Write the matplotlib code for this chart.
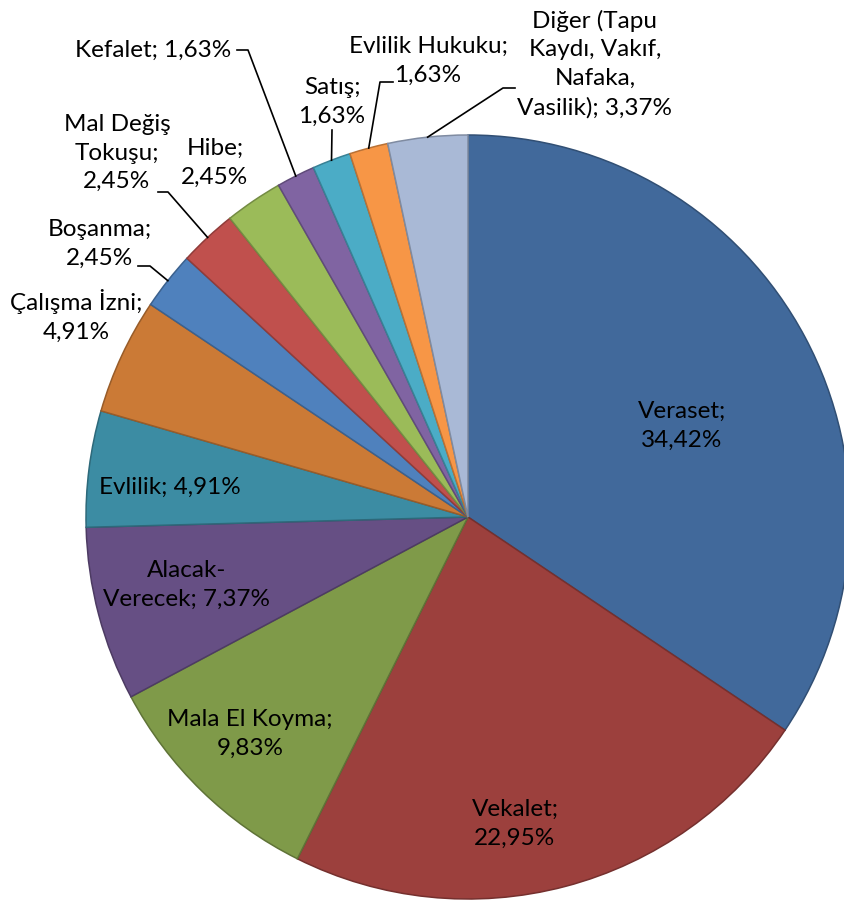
import numpy as np
import matplotlib.pyplot as plt
import matplotlib.colors as mcolors

plt.rcParams['font.family'] = ['Lato', 'DejaVu Sans']

# slices, clockwise from 12 o'clock
labels = ['Veraset;\n34,42%', 'Vekalet;\n22,95%', 'Mala El Koyma;\n9,83%',
          'Alacak-\nVerecek; 7,37%', 'Evlilik; 4,91%', 'Çalışma İzni;\n4,91%',
          'Boşanma;\n2,45%', 'Mal Değiş\nTokuşu;\n2,45%', 'Hibe;\n2,45%',
          'Kefalet; 1,63%', 'Satış;\n1,63%', 'Evlilik Hukuku;\n1,63%',
          'Diğer (Tapu\nKaydı, Vakıf,\nNafaka,\nVasilik); 3,37%']
values = [34.42, 22.95, 9.83, 7.37, 4.91, 4.91, 2.45, 2.45, 2.45, 1.63, 1.63, 1.63, 3.37]
colors = ['#41699b', '#9c403d', '#7f9a49', '#664f84', '#3c8ca3', '#cb7a36',
          '#4f81bd', '#c0504d', '#9bbb59', '#8064a2', '#4bacc6', '#f79646', '#a9b9d6']

# label positions in pixels (x, y from top), and leader line elbow (None = no line)
label_pos = [(682, 426), (515, 824), (250, 734), (187, 585), (170, 487), (76, 316),
             (100, 244), (117, 153), (215, 163), (153, 50), (332, 102), (428, 61), (595, 64)]
elbows = [None, None, None, None, None, None,
          [(138, 266), (150, 266)], [(158, 192), (168, 192)], None,
          [(237, 50), (248, 50)], [(332, 130)], [(393, 82), (380, 82)],
          [(515, 88), (503, 88)]]

H = 900
fig = plt.figure(figsize=(8.45, 9), dpi=100)
ax = fig.add_axes([0, 0, 1, 1])

edges = [tuple(np.array(mcolors.to_rgb(c)) * 0.75) for c in colors]
wedges, _ = ax.pie(values, colors=colors, startangle=90, counterclock=False,
                   center=(468, H - 517), radius=382,
                   wedgeprops=dict(linewidth=1.1))
for w, e in zip(wedges, edges):
    w.set_edgecolor(e)

ax.set_xlim(0, 845)
ax.set_ylim(0, H)
ax.set_aspect('equal')
ax.axis('off')

for i, w in enumerate(wedges):
    x, y = label_pos[i]
    ax.text(x, H - y, labels[i], ha='center', va='center', fontsize=17.5,
            linespacing=1.45, color='black')
    if elbows[i] is not None:
        mid = np.deg2rad((w.theta1 + w.theta2) / 2)
        cx, cy = w.center
        px = [p[0] for p in elbows[i]] + [cx + w.r * np.cos(mid)]
        py = [H - p[1] for p in elbows[i]] + [cy + w.r * np.sin(mid)]
        ax.plot(px, py, color='black', linewidth=1.2)

fig.savefig('out.png', dpi=100)
